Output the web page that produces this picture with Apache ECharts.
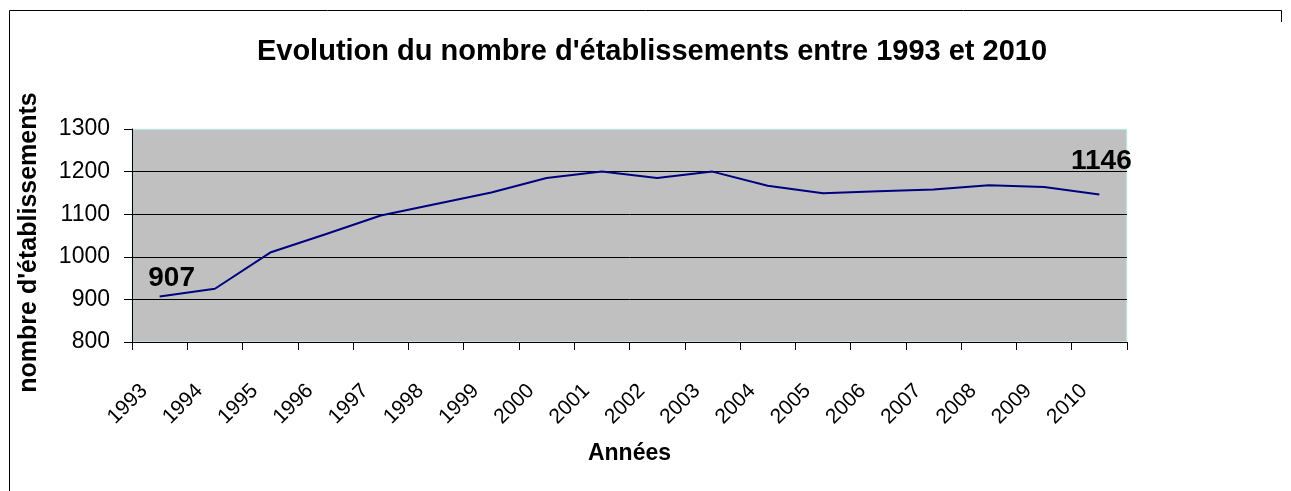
<!DOCTYPE html>
<html>
<head>
<meta charset="utf-8">
<script src="https://cdn.jsdelivr.net/npm/echarts@6/dist/echarts.min.js"></script>
<style>
html,body{margin:0;padding:0;background:#fff;}
#chart{width:1291px;height:491px;}
</style>
</head>
<body>
<div id="chart"></div>
<script>
var titleText = "Evolution du nombre d'établissements entre 1993 et 2010";
var xAxisName = "Années";
var yAxisName = "nombre d'établissements";
var years = ["1993","1994","1995","1996","1997","1998","1999","2000","2001","2002","2003","2004","2005","2006","2007","2008","2009","2010"];
var establishments = [907, 925, 1010, 1053, 1097, 1124, 1151, 1185, 1200, 1185, 1200, 1167, 1149, 1154, 1158, 1168, 1164, 1146];
var yTicks = [800, 900, 1000, 1100, 1200, 1300];
var labelledIndices = [0, 17];

var FONT = "'Liberation Sans', Arial, sans-serif";
var labelOffsets = {0: [12, -18], 17: [2, -33]};

var seriesData = establishments.map(function (v, i) {
  var item = { value: v };
  if (labelledIndices.indexOf(i) >= 0) {
    item.label = {
      show: true,
      position: 'inside',
      offset: labelOffsets[i],
      formatter: String(v),
      fontFamily: FONT,
      fontSize: 28,
      fontWeight: 'bold',
      color: '#000'
    };
  }
  return item;
});

var chart = echarts.init(document.getElementById('chart'), null, { renderer: 'canvas' });
chart.setOption({
  backgroundColor: '#ffffff',
  animation: false,
  title: {
    text: titleText,
    left: 647,
    top: 32,
    textAlign: 'center',
    textStyle: { fontFamily: FONT, fontSize: 29, fontWeight: 'bold', color: '#000' }
  },
  grid: {
    left: 132, right: 164, top: 129, bottom: 149,
    show: true,
    backgroundColor: '#c0c0c0',
    borderColor: '#ccffff',
    borderWidth: 1
  },
  xAxis: {
    type: 'category',
    data: years,
    boundaryGap: true,
    name: xAxisName,
    nameLocation: 'middle',
    nameGap: 100,
    nameTextStyle: { fontFamily: FONT, fontSize: 23, fontWeight: 'bold', color: '#000' },
    axisLine: { show: true, lineStyle: { color: '#000', width: 1 } },
    axisTick: { show: true, length: 8, inside: false, alignWithLabel: false, lineStyle: { color: '#000' } },
    axisLabel: {
      interval: 0,
      rotate: 45,
      margin: 30,
      padding: [0, 22, 0, 0],
      fontFamily: FONT,
      fontSize: 21,
      color: '#000'
    },
    splitLine: { show: false }
  },
  yAxis: {
    type: 'value',
    min: yTicks[0],
    max: yTicks[yTicks.length - 1],
    interval: yTicks[1] - yTicks[0],
    name: yAxisName,
    nameLocation: 'middle',
    nameGap: 90,
    nameRotate: 90,
    nameTextStyle: { fontFamily: FONT, fontSize: 25, fontWeight: 'bold', color: '#000', padding: [0, 14, 0, 0] },
    axisLine: { show: true, lineStyle: { color: '#000', width: 1 } },
    axisTick: { show: true, length: 8, inside: false, lineStyle: { color: '#000' } },
    axisLabel: {
      margin: 22, fontFamily: FONT, fontSize: 23, color: '#000',
      formatter: function (v) { return String(v); }
    },
    splitLine: { show: true, showMaxLine: false, lineStyle: { color: '#000', width: 1 } }
  },
  series: [{
    type: 'line',
    data: seriesData,
    symbol: 'circle',
    symbolSize: 2,
    showSymbol: true,
    itemStyle: { color: 'rgba(0,0,0,0)' },
    lineStyle: { color: '#000080', width: 2 },
    label: { show: false },
    emphasis: { disabled: true }
  }],
  graphic: [
    { type: 'line', shape: { x1: 9.5, y1: 10.5, x2: 1281.5, y2: 10.5 }, style: { stroke: '#000', lineWidth: 1 } },
    { type: 'line', shape: { x1: 9.5, y1: 10.5, x2: 9.5, y2: 491 }, style: { stroke: '#000', lineWidth: 1 } },
    { type: 'line', shape: { x1: 1281.5, y1: 10.5, x2: 1281.5, y2: 22 }, style: { stroke: '#000', lineWidth: 1 } }
  ]
});
</script>
</body>
</html>
